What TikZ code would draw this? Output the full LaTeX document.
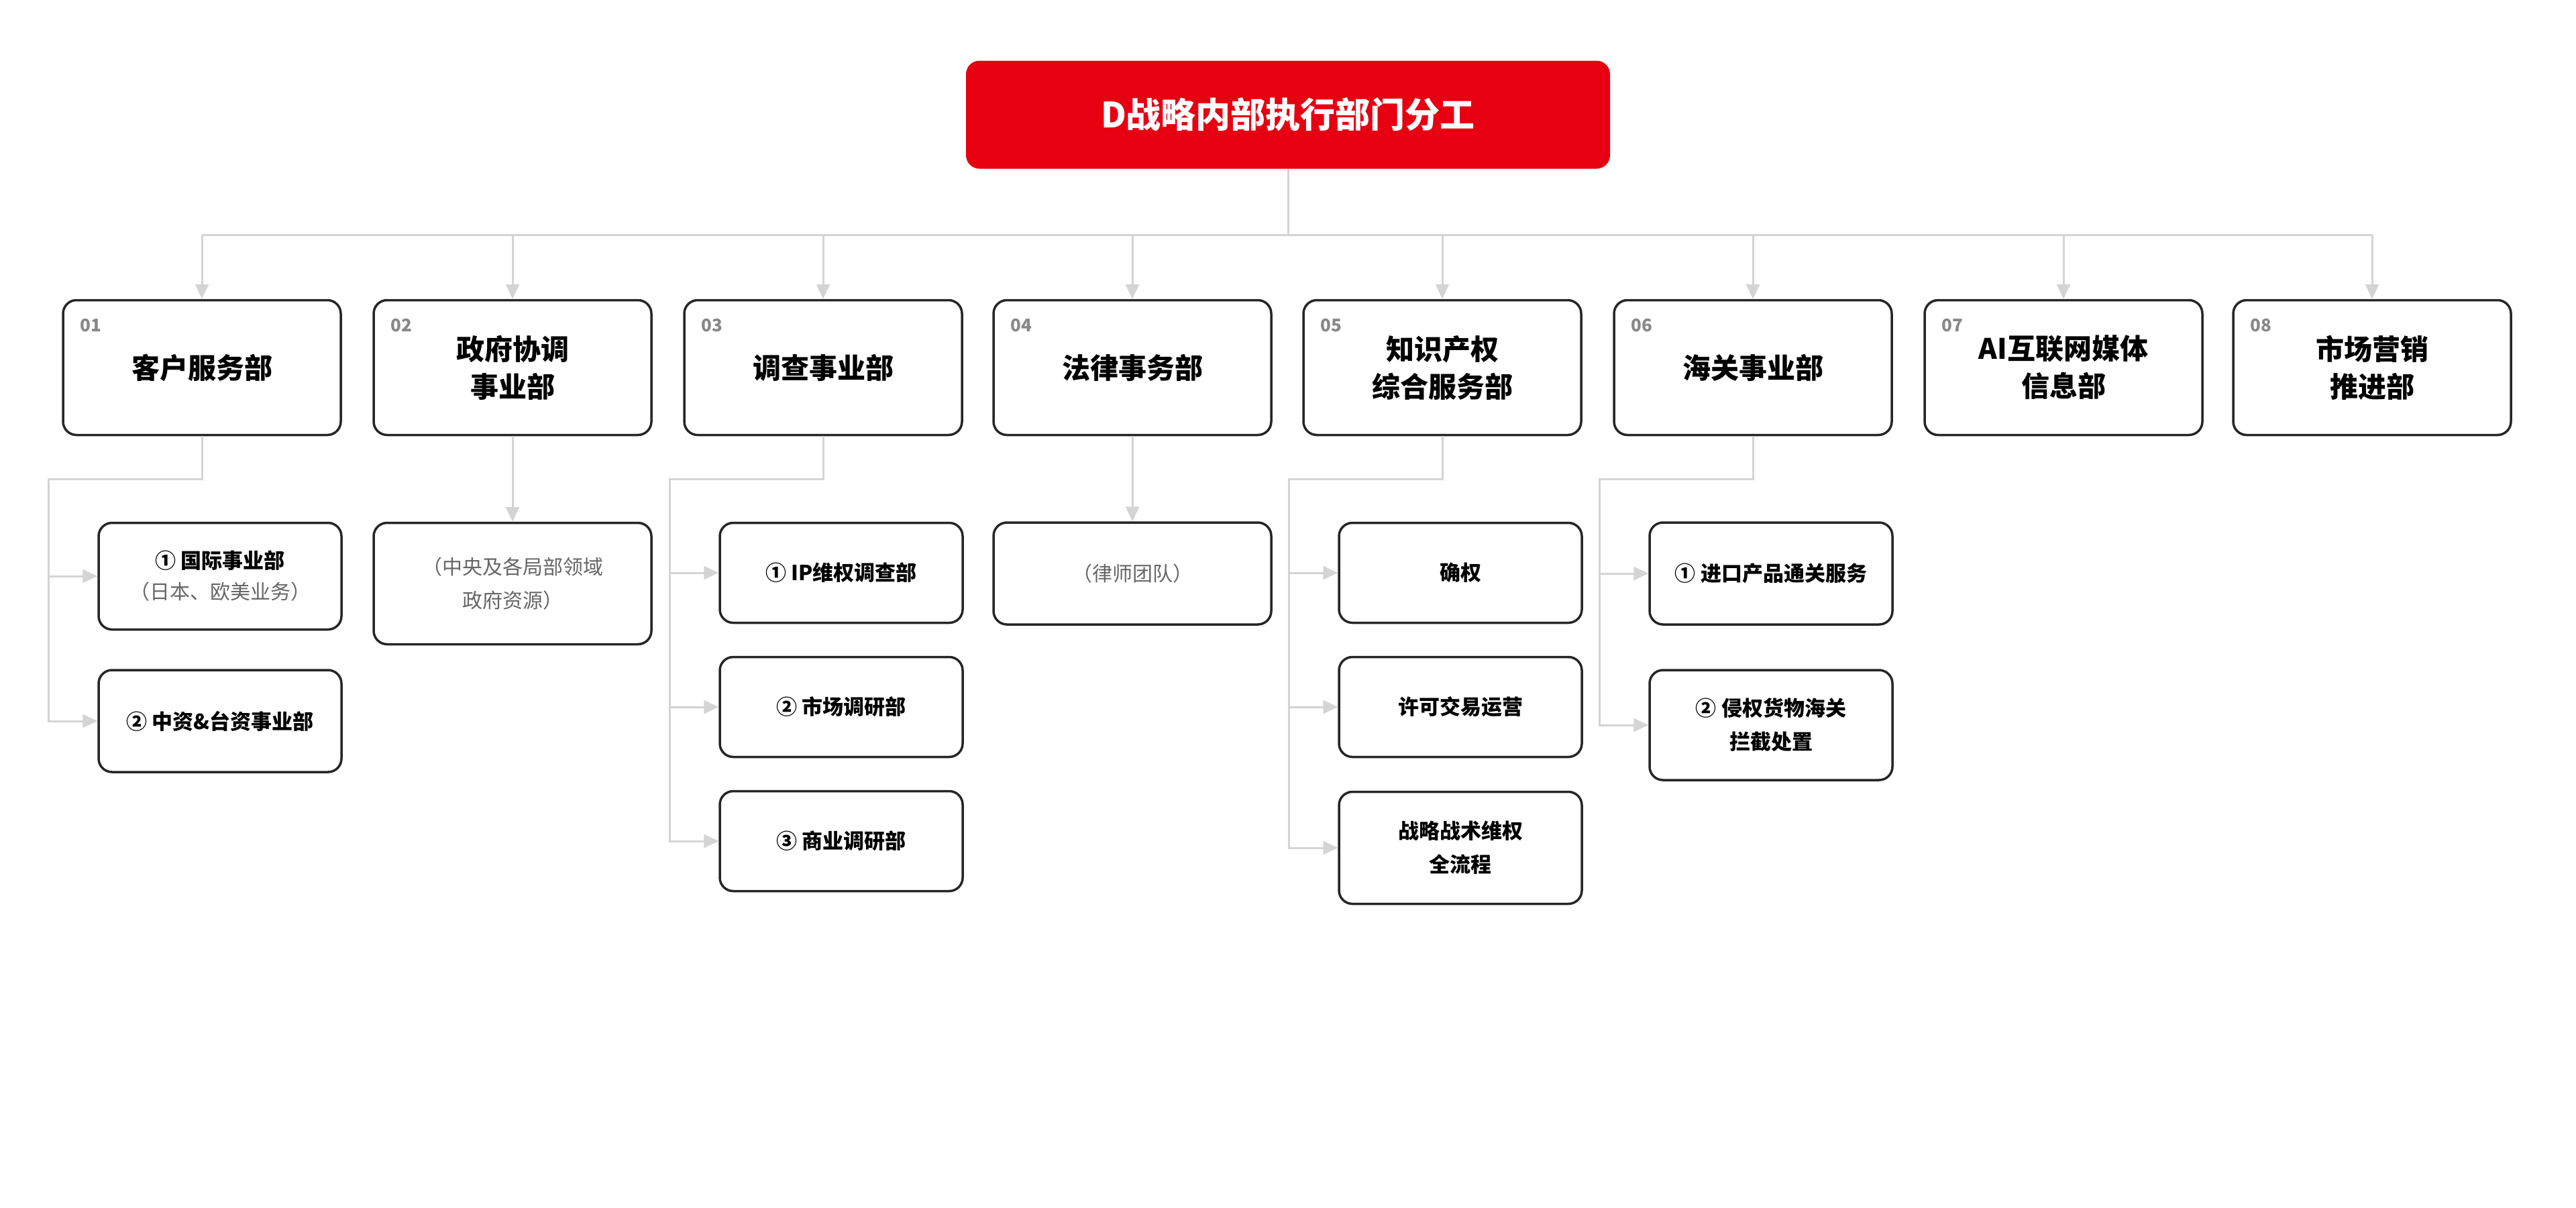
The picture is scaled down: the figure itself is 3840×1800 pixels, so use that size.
\documentclass[tikz,border=0pt]{standalone}
\usepackage{fontspec}
\setmainfont{Noto Sans CJK SC}
\usetikzlibrary{arrows.meta, positioning, calc}
\definecolor{dred}{HTML}{E60012}
\definecolor{lgray}{HTML}{D4D4D4}
\definecolor{txtgray}{HTML}{666666}
\definecolor{numgray}{HTML}{888888}
\newcommand{\subnote}{\color{txtgray}\fontsize{30}{50}\selectfont\mdseries}
\tikzset{
  dept/.style={draw=black!85, line width=3.5pt, rounded corners=20pt, fill=white,
    minimum width=414pt, minimum height=201pt, align=center,
    font=\fontsize{42}{56}\selectfont\bfseries},
  sub/.style={draw=black!85, line width=3.5pt, rounded corners=20pt, fill=white,
    minimum width=362pt, align=center, text=black,
    font=\fontsize{31}{50}\selectfont\bfseries},
  num/.style={text=numgray, font=\fontsize{26}{30}\selectfont\bfseries, anchor=west},
  link/.style={draw=lgray, line width=3pt},
  arr/.style={link, -{Triangle[length=22pt,width=20pt]}},
}
\begin{document}
\begin{tikzpicture}[x=1pt, y=-1pt]
\useasboundingbox (0,0) rectangle (3840,1800);
% Title
\node[fill=dred, rounded corners=20pt, minimum width=960pt, minimum height=161pt,
  text=white, font=\fontsize{52}{60}\selectfont\bfseries] (title) at (1920,171) {D战略内部执行部门分工};
% Departments
\node[dept] (d1) at (301,548) {客户服务部};
\node[dept] (d2) at (764,548) {政府协调\\事业部};
\node[dept] (d3) at (1227,548) {调查事业部};
\node[dept] (d4) at (1688,548) {法律事务部};
\node[dept] (d5) at (2150,548) {知识产权\\综合服务部};
\node[dept] (d6) at (2613,548) {海关事业部};
\node[dept] (d7) at (3076,548) {AI互联网媒体\\信息部};
\node[dept] (d8) at (3536,548) {市场营销\\推进部};
\foreach \i in {1,...,8}
  \node[num] at ($(d\i.north west)+(24,39)$) {0\i};
% Trunk
\coordinate (trunk) at (1920,350);
\draw[link] (title.south) -- (trunk);
\draw[link] (d1 |- trunk) -- (d8 |- trunk);
\foreach \i in {1,...,8}
  \draw[arr] (d\i |- trunk) -- (d\i.north);
% Sub units
\node[sub, minimum height=159pt] (c11) at (328,859) {① 国际事业部\\[-4pt]{\subnote （日本、欧美业务）}};
\node[sub, minimum height=152pt] (c12) at (328,1075) {② 中资\&台资事业部};
\node[sub, minimum width=414pt, minimum height=181pt] (c21) at (764,870) {{\subnote （中央及各局部领域}\\{\subnote 政府资源）}};
\node[sub, minimum height=149pt] (c31) at (1254,854) {① IP维权调查部};
\node[sub, minimum height=149pt] (c32) at (1254,1054) {② 市场调研部};
\node[sub, minimum height=149pt] (c33) at (1254,1254) {③ 商业调研部};
\node[sub, minimum width=414pt, minimum height=152pt] (c41) at (1688,855) {\subnote （律师团队）};
\node[sub, minimum height=149pt] (c51) at (2177,854) {确权};
\node[sub, minimum height=149pt] (c52) at (2177,1054) {许可交易运营};
\node[sub, minimum height=167pt] (c53) at (2177,1264) {战略战术维权\\全流程};
\node[sub, minimum height=152pt] (c61) at (2640,855) {① 进口产品通关服务};
\node[sub, minimum height=164pt] (c62) at (2640,1081) {② 侵权货物海关\\拦截处置};
% Sub links
\coordinate (b1) at ($(d1.south west)+(-20,64)$);
\draw[arr] (d1.south) |- (b1) |- (c12.west);
\draw[arr] (b1) |- (c11.west);
\draw[arr] (d2.south) -- (c21.north);
\coordinate (b3) at ($(d3.south west)+(-20,64)$);
\draw[arr] (d3.south) |- (b3) |- (c33.west);
\draw[arr] (b3) |- (c31.west);
\draw[arr] (b3) |- (c32.west);
\draw[arr] (d4.south) -- (c41.north);
\coordinate (b5) at ($(d5.south west)+(-20,64)$);
\draw[arr] (d5.south) |- (b5) |- (c53.west);
\draw[arr] (b5) |- (c51.west);
\draw[arr] (b5) |- (c52.west);
\coordinate (b6) at ($(d6.south west)+(-20,64)$);
\draw[arr] (d6.south) |- (b6) |- (c62.west);
\draw[arr] (b6) |- (c61.west);
\end{tikzpicture}
\end{document}
